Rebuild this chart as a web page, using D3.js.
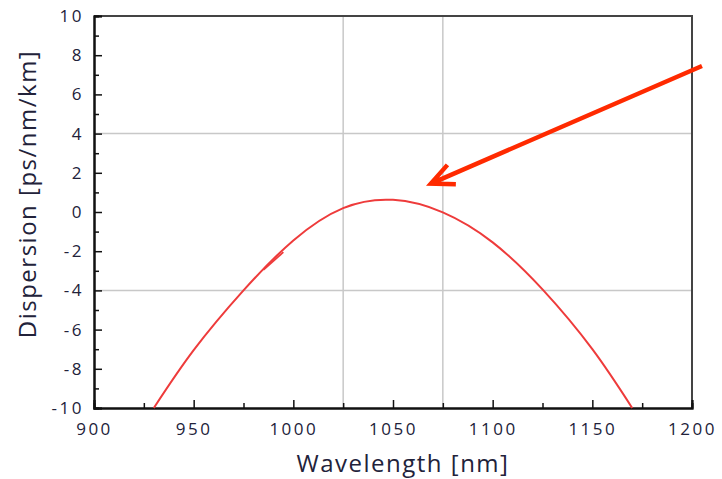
<!DOCTYPE html>
<html>
<head>
<meta charset="utf-8">
<script src="https://cdn.jsdelivr.net/npm/d3@7"></script>
<style>
  body { margin: 0; background: #fff; }
  text { font-family: "Open Sans", Lato, sans-serif; fill: #22223a; }
</style>
</head>
<body>
<svg id="chart" width="722" height="479"></svg>
<script>
// values
let wavelength = [930, 950, 975, 1000, 1025, 1050, 1075, 1100, 1125, 1150, 1170];
let dispersion = [-10, -7.05, -4.0, -1.45, 0.2, 0.62, -0.02, -1.55, -3.95, -7.0, -10];
// small stray stroke beside the curve
let strayX = [995, 985];
let strayY = [-2.05, -2.95];
// pointer arrow (tail, tip)
let arrowX = [1205, 1069];
let arrowY = [7.45, 1.45];

let xTicks = [900, 950, 1000, 1050, 1100, 1150, 1200];
let xMinor = [925, 975, 1025, 1075, 1125, 1175];
let yTicks = [-10, -8, -6, -4, -2, 0, 2, 4, 6, 8, 10];
let yMinor = [-9, -7, -5, -3, -1, 1, 3, 5, 7, 9];
let xGrid = [1025, 1075];
let yGrid = [-4, 4];

let margin = { left: 94, right: 30, top: 16, bottom: 71 };
let width = 722, height = 479;
let svg = d3.select('#chart');

let x = d3.scaleLinear().domain([900, 1200]).range([margin.left, width - margin.right]);
let y = d3.scaleLinear().domain([-10, 10]).range([height - margin.bottom, margin.top]);

// grid lines
svg.selectAll('.gx').data(xGrid).enter().append('line')
   .attr('x1', d => x(d)).attr('x2', d => x(d))
   .attr('y1', y(-10)).attr('y2', y(10))
   .attr('stroke', '#c8c8c8').attr('stroke-width', 1.5);
svg.selectAll('.gy').data(yGrid).enter().append('line')
   .attr('y1', d => y(d)).attr('y2', d => y(d))
   .attr('x1', x(900)).attr('x2', x(1200))
   .attr('stroke', '#c8c8c8').attr('stroke-width', 1.5);

// frame (top and right)
svg.append('path')
   .attr('d', `M${x(900)},${y(10)}H${x(1200)}V${y(-10)}`)
   .attr('fill', 'none').attr('stroke', '#444').attr('stroke-width', 2);

// x axis
let xAxis = svg.append('g').attr('transform', `translate(0,${y(-10)})`)
   .call(d3.axisBottom(x).tickValues(xTicks).tickSize(-8).tickFormat(d3.format('d')));
xAxis.selectAll('.tick text').attr('y', 15).attr('font-size', 17).attr('letter-spacing', 2.5);
xAxis.append('g').call(d3.axisBottom(x).tickValues(xMinor).tickSize(-5).tickFormat(''));
xAxis.selectAll('path').attr('stroke', '#111').attr('stroke-width', 2);
xAxis.selectAll('line').attr('stroke', '#111').attr('stroke-width', 1.5);

// y axis
let yAxis = svg.append('g').attr('transform', `translate(${x(900)},0)`)
   .call(d3.axisLeft(y).tickValues(yTicks).tickSize(-8).tickFormat(d => String(d)));
yAxis.selectAll('.tick text').attr('x', -10).attr('font-size', 17).attr('letter-spacing', 2.5);
yAxis.append('g').call(d3.axisLeft(y).tickValues(yMinor).tickSize(-5).tickFormat(''));
yAxis.selectAll('path').attr('stroke', '#111').attr('stroke-width', 2);
yAxis.selectAll('line').attr('stroke', '#111').attr('stroke-width', 1.5);

svg.selectAll('.tick text')
   .style('font-family', '"Open Sans", Lato, sans-serif')
   .attr('fill', '#22223a');

// curve
let line = d3.line().x(d => x(d[0])).y(d => y(d[1])).curve(d3.curveNatural);
svg.append('path')
   .datum(wavelength.map((w, i) => [w, dispersion[i]]))
   .attr('d', line)
   .attr('fill', 'none').attr('stroke', '#ee3b3b').attr('stroke-width', 2);
svg.append('path')
   .datum(strayX.map((w, i) => [w, strayY[i]]))
   .attr('d', d3.line().x(d => x(d[0])).y(d => y(d[1])))
   .attr('fill', 'none').attr('stroke', '#ee3b3b').attr('stroke-width', 1.8);

// arrow
let tx = x(arrowX[0]), ty = y(arrowY[0]), hx = x(arrowX[1]), hy = y(arrowY[1]);
let ang = Math.atan2(ty - hy, tx - hx);
let armLen = 25, spread = 25 * Math.PI / 180;
let a1 = [hx + armLen * Math.cos(ang - spread), hy + armLen * Math.sin(ang - spread)];
let a2 = [hx + armLen * Math.cos(ang + spread), hy + armLen * Math.sin(ang + spread)];
svg.append('path')
   .attr('d', `M${tx},${ty}L${hx},${hy}M${a1[0]},${a1[1]}L${hx},${hy}L${a2[0]},${a2[1]}`)
   .attr('fill', 'none').attr('stroke', '#ff2a00').attr('stroke-width', 4.5)
   .attr('stroke-linejoin', 'miter');

// axis titles
svg.append('text')
   .attr('x', 403).attr('y', 472)
   .attr('text-anchor', 'middle').attr('font-size', 24)
   .attr('letter-spacing', 1.5)
   .text('Wavelength [nm]');
svg.append('text')
   .attr('transform', `translate(36,194) rotate(-90)`)
   .attr('text-anchor', 'middle').attr('font-size', 24)
   .attr('letter-spacing', 1.5)
   .text('Dispersion [ps/nm/km]');
</script>
</body>
</html>
